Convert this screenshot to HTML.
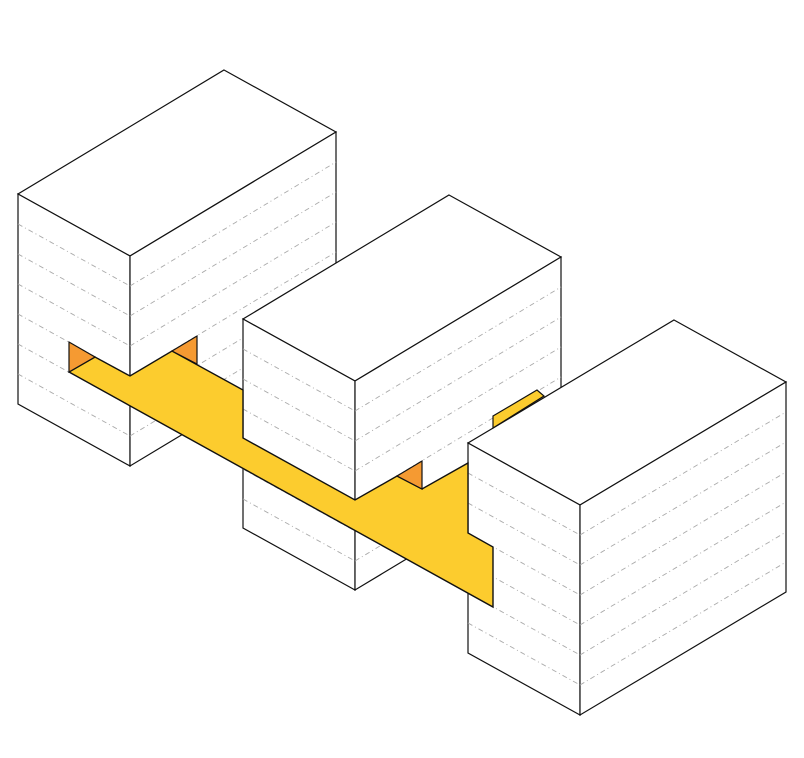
<!DOCTYPE html>
<html><head><meta charset="utf-8"><style>html,body{margin:0;padding:0;background:#fff}svg{display:block}</style></head>
<body>
<svg id="s" width="804" height="758" viewBox="0 0 804 758" xmlns="http://www.w3.org/2000/svg"></svg>
<script>
var s=document.getElementById('s'),out='';
function poly(p,fill,sw){out+='<polygon points="'+p.map(function(q){return q.join(',')}).join(' ')+'" fill="'+fill+'" stroke="#111" stroke-width="'+(sw||1.2)+'" stroke-linejoin="miter"/>';}
function dl(a,b){out+='<line x1="'+a[0]+'" y1="'+a[1]+'" x2="'+b[0]+'" y2="'+b[1]+'" stroke="#aaa" stroke-width="0.9" stroke-dasharray="5,3,1,3"/>';}
function box(T,R,L,F,h){
 function d(p,k){return [p[0],p[1]+k];}
 poly([T,R,F,L],'#fff');
 poly([L,F,d(F,h),d(L,h)],'#fff');
 poly([F,R,d(R,h),d(F,h)],'#fff');
 for(var k=30;k<h-5;k+=30){dl(d(L,k),d(F,k));dl(d(F,k),d(R,k));}
}
box([224,70],[336,132],[18,194],[130,256],210);
box([449,195],[561,257],[243,319],[355,381],209);
box([674,320],[786,382],[468,443],[580,505],210);
// yellow sliver
poly([[493,416],[537,390],[544,396],[493,428]],'#fccc2e');
// main slab
poly([[69,372],[95,357],[130,376],[172,351],[243,390],[243,438],[355,500],[397,476],[422,489],[468,463],[468,533],[493,547],[493,607]],'#fccc2e',1.4);
poly([[69,342],[69,372],[95,357]],'#f59a32');
poly([[172,351],[197,336],[197,364]],'#f59a32');
poly([[397,476],[422,461],[422,489]],'#f59a32');
s.innerHTML=out;
</script>
</body></html>
